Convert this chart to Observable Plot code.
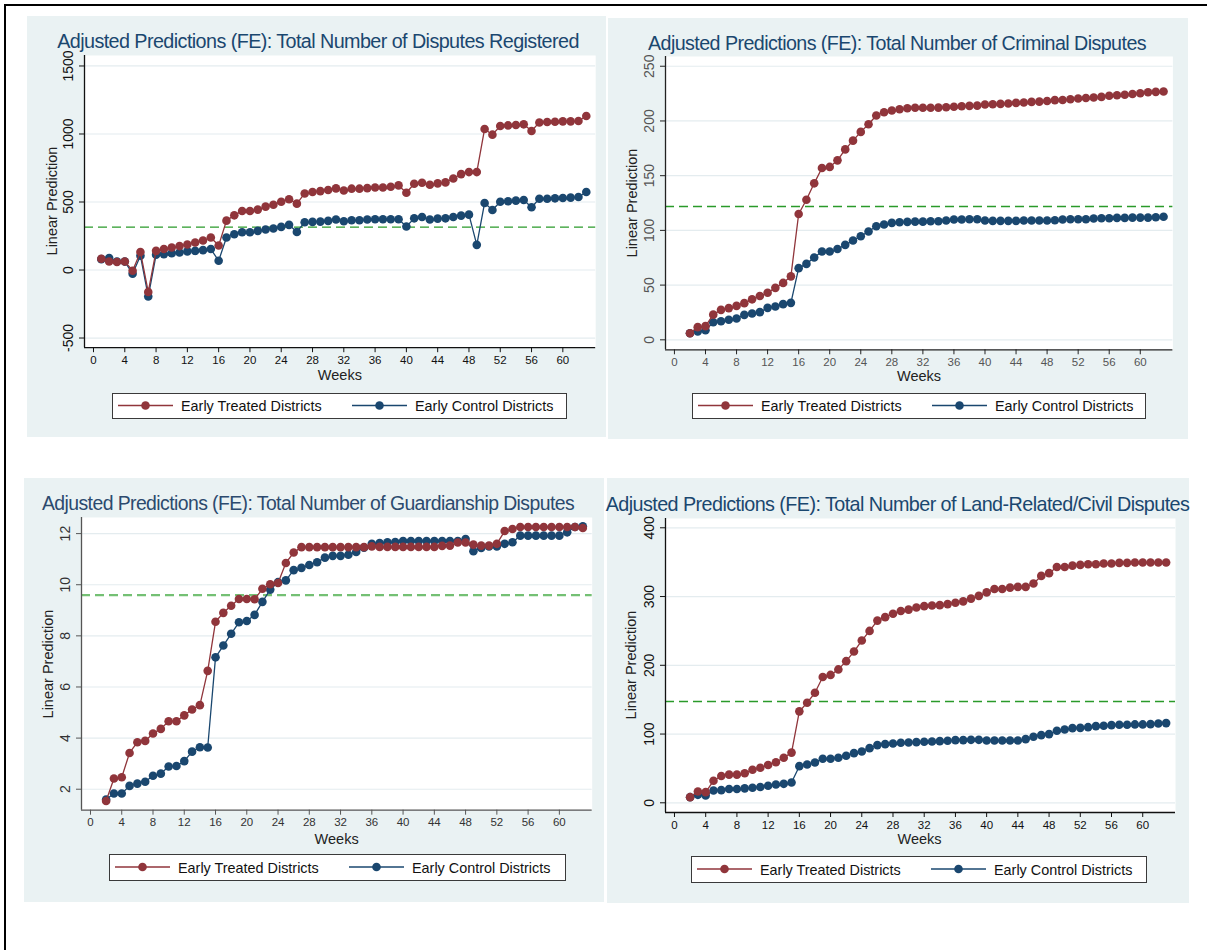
<!DOCTYPE html>
<html>
<head>
<meta charset="utf-8">
<script src="https://cdn.jsdelivr.net/npm/d3@7"></script>
<script src="https://cdn.jsdelivr.net/npm/@observablehq/plot@0.6"></script>
<style>
  html, body { margin: 0; padding: 0; background: #fff; }
  body { font-family: "Liberation Sans", Arial, sans-serif; }
  #page { position: relative; width: 1207px; height: 950px; overflow: hidden; background: #fff; }
  .bline { position: absolute; background: #000; }
  .panel { position: absolute; background: #eaf2f3; }
  .title { position: absolute; white-space: nowrap; transform: translate(-50%, -50%); line-height: 1; }
  .ylab { position: absolute; white-space: nowrap; transform: translate(-50%, -50%) rotate(-90deg); font-size: 14.5px; color: #222; line-height: 1; }
  .xlab { position: absolute; white-space: nowrap; transform: translate(-50%, -50%); font-size: 14.5px; color: #222; line-height: 1; }
  .legend { position: absolute; background: #fff; border: 1.5px solid #3a3a3a; box-sizing: border-box; }
  .legend span { position: absolute; top: 50%; transform: translateY(-50%); white-space: nowrap; font-size: 14.4px; color: #111; line-height: 1; }
  .legend svg { position: absolute; left: 0; top: 0; }
  .plotbox { position: absolute; }
</style>
</head>
<body>
<div id="page"></div>
<script>
// ---------------- DATA ----------------
const weeksAll = [1,2,3,4,5,6,7,8,9,10,11,12,13,14,15,16,17,18,19,20,21,22,23,24,25,26,27,28,29,30,31,32,33,34,35,36,37,38,39,40,41,42,43,44,45,46,47,48,49,50,51,52,53,54,55,56,57,58,59,60,61,62,63];
const weeksFrom2 = weeksAll.slice(1);

const seriesNames = ["Early Treated Districts", "Early Control Districts"];
const xTicks = [0,4,8,12,16,20,24,28,32,36,40,44,48,52,56,60];

// Panel 1: Total Number of Disputes Registered (weeks 1-63)
const disputesTreated = [83,63,59,63,-5,132,-161,141,154,166,176,188,202,217,239,180,363,402,434,434,444,466,480,502,520,488,563,573,580,588,600,585,598,598,602,607,607,612,622,568,634,641,627,637,644,673,705,720,720,1037,995,1059,1063,1066,1071,1022,1085,1088,1090,1093,1093,1095,1132];
const disputesControl = [80,88,62,62,-27,105,-195,112,117,124,129,137,141,146,154,68,239,263,278,278,288,298,305,317,332,280,351,354,356,361,371,359,366,366,371,373,373,373,373,320,380,390,371,378,380,390,400,407,185,493,441,502,505,510,515,461,524,524,527,529,532,537,573];
const disputesYTicks = [-500,0,500,1000,1500];

// Panel 2: Criminal Disputes (weeks 2-63)
const criminalTreated = [6,11.6,12.5,23,27.4,29,31,33.5,37,40,43,47.5,52,58,115,128,143,157,158,164,174,182,190,197,205,208,209.5,210.7,211.6,212,212,212,212.2,212.5,213,213.5,213.8,214,215,215.3,215.6,216,216.5,216.8,217.4,217.7,218.3,219,219.2,219.8,220.5,221,221.4,222,223,223.5,224,224.7,225.3,226.2,226.6,226.9];
const criminalControl = [6,7.6,8.8,16,17,18.3,19.5,22.8,24,25.3,29.2,30.5,32.6,33.8,65.5,69.4,75.2,80.7,80.7,83,86.8,90.7,94.7,99,103.8,105.4,106.9,107.5,107.8,108,108,108.4,108.4,109,110,110,110.2,110.2,109,108.7,108.7,108.7,108.7,109,109,109,109,109.3,110,110.2,110.2,110.2,110.8,111.1,111.1,111.4,111.4,111.7,111.7,111.7,112,112.4];
const criminalYTicks = [0,50,100,150,200,250];

// Panel 3: Guardianship Disputes (weeks 2-63)
const guardianTreated = [1.54,2.42,2.47,3.42,3.84,3.89,4.18,4.36,4.66,4.66,4.89,5.12,5.29,6.63,8.55,8.9,9.18,9.44,9.44,9.43,9.84,10.02,10.07,10.85,11.26,
  11.47,11.47,11.47,11.47,11.47,11.47,11.47,11.47,11.47,
  11.5,
  11.48,11.48,11.48,11.48,11.48,11.48,11.48,11.48,
  11.52,11.53,11.65,11.65,11.57,11.53,11.53,11.6,
  12.1,12.18,
  12.26,12.26,12.26,12.26,12.26,12.26,12.26,12.26,
  12.22];
const guardianControl = [1.6,1.83,1.83,2.13,2.22,2.29,2.53,2.61,2.89,2.91,3.1,3.47,3.64,3.63,7.16,7.62,8.08,8.53,8.58,8.82,9.33,9.81,10.1,10.17,10.57,10.66,10.77,10.88,11.06,11.13,11.13,11.17,11.28,11.45,11.6,11.63,11.66,11.67,11.71,
  11.71,11.71,11.71,11.71,11.71,11.71,11.71,
  11.79,
  11.31,11.44,11.5,11.5,11.6,11.66,
  11.92,11.92,11.92,11.92,11.92,11.92,
  12.05,12.26,12.29];
const guardianYTicks = [2,4,6,8,10,12];

// Panel 4: Land-Related/Civil Disputes (weeks 2-63)
const landTreated = [8.2,16.5,15.5,32,39,41,41,43,48,51,55,59,65.5,73,133,145.5,160,183,186,194,206,220,236,250,265,270,275,279,281,284,286,287,287.5,289,291,293,297,301,306,311,311,313,314,314,319,330,334,343,343,345,346,347,347,348,348,349,349,349.5,349.5,349.5,349.5,349.5];
const landControl = [8.2,11.6,10.7,18,18.4,20,20,21,22,23,24.7,26.7,27.6,29.6,53.3,55.8,58.7,64,64,65.5,68.4,72.2,74.7,79.5,83.9,85.3,86.3,87.3,87.8,88.2,88.7,89.2,89.7,90.2,91.2,91.2,91.6,91.6,90.7,90.7,90.7,90.7,90.7,92.6,96,98.4,99.9,104.7,106.7,108.6,109,110,111.5,112,113,113.5,113.5,114,114,114.4,115.4,115.9];
const landYTicks = [0,100,200,300,400];

// Horizontal reference (dashed) levels
const refLevels = [315, 121.8, 9.59, 147.4];

const titles = [
  "Adjusted Predictions (FE): Total Number of Disputes Registered",
  "Adjusted Predictions (FE): Total Number of Criminal Disputes",
  "Adjusted Predictions (FE): Total Number of Guardianship Disputes",
  "Adjusted Predictions (FE): Total Number of Land-Related/Civil Disputes"
];

// ---------------- LAYOUT / STYLE ----------------
const RED = "#90353b", BLUE = "#1a476f";
const X_DOMAIN = [-1.15, 64.2];

const panels = [
  { title: titles[0], weeks: weeksAll, treated: disputesTreated, control: disputesControl, ref: refLevels[0], yTicks: disputesYTicks, yDomain: [-571, 1577],
    bg: {l: 27, t: 16, r: 606, b: 437}, frame: {l: 84.3, t: 54.5, r: 595.5, b: 346.7},
    titleC: [318, 41.8], titleW: 522, titleColor: "#1a476f", ylabX: 51.6, weeksY: 375,
    legend: {l: 112, t: 393, w: 455, h: 26}, refColor: "#2a9a2a", refWidth: 1.4, tickColor: "#111", axisColor: "#111" },
  { title: titles[1], weeks: weeksFrom2, treated: criminalTreated, control: criminalControl, ref: refLevels[1], yTicks: criminalYTicks, yDomain: [-9.1, 258.9],
    bg: {l: 608, t: 18, r: 1188, b: 439}, frame: {l: 665.3, t: 56, r: 1172.7, b: 349.3},
    titleC: [897, 44], titleW: 498, titleColor: "#1a476f", ylabX: 632, weeksY: 376,
    legend: {l: 692, t: 393, w: 454, h: 26}, refColor: "#2a9a2a", refWidth: 1.4, tickColor: "#555", axisColor: "#222" },
  { title: titles[2], weeks: weeksFrom2, treated: guardianTreated, control: guardianControl, ref: refLevels[2], yTicks: guardianYTicks, yDomain: [1.18, 12.63],
    bg: {l: 24, t: 478, r: 604, b: 902}, frame: {l: 81.3, t: 517.3, r: 592, b: 810},
    titleC: [308, 504], titleW: 532, titleColor: "#2c4a6e", ylabX: 47.9, weeksY: 838.7,
    legend: {l: 109, t: 854.3, w: 457, h: 27}, refColor: "#74c074", refWidth: 2.2, tickColor: "#333", axisColor: "#555" },
  { title: titles[3], weeks: weeksFrom2, treated: landTreated, control: landControl, ref: refLevels[3], yTicks: landYTicks, yDomain: [-14.1, 413.5],
    bg: {l: 607, t: 478, r: 1189, b: 903}, frame: {l: 664.5, t: 517.7, r: 1174.5, b: 811.7},
    titleC: [897.5, 505], titleW: 584, titleColor: "#1a476f", ylabX: 630.6, weeksY: 839,
    legend: {l: 691, t: 856, w: 456, h: 27}, refColor: "#2a9a2a", refWidth: 1.4, tickColor: "#111", axisColor: "#111" }
];

const page = document.getElementById("page");

function addDiv(cls, css) { const d = document.createElement("div"); d.className = cls; Object.assign(d.style, css); page.appendChild(d); return d; }
// outer border (top and left)
addDiv("bline", {left: "4px", top: "4px", width: "1203px", height: "2px"});
addDiv("bline", {left: "4px", top: "4px", width: "2px", height: "946px"});

const ctx = document.createElement("canvas").getContext("2d");
function measure(text, size, family) {
  ctx.font = `${size}px ${family}`;
  return ctx.measureText(text).width;
}

const ML = 50, MR = 4, MT = 4, MB = 30;

for (const p of panels) {
  addDiv("panel", {left: p.bg.l + "px", top: p.bg.t + "px", width: (p.bg.r - p.bg.l) + "px", height: (p.bg.b - p.bg.t) + "px"});

  // title: slightly taller glyphs, tightened spacing to match the measured width
  const t = addDiv("title", {left: p.titleC[0] + "px", top: p.titleC[1] + "px", color: p.titleColor});
  t.textContent = p.title;
  const fam = '"Liberation Sans"';
  const fitted = 100 * p.titleW / measure(p.title, 100, fam);
  const size = fitted * 1.07;
  const w = measure(p.title, size, fam);
  t.style.fontSize = size.toFixed(2) + "px";
  t.style.letterSpacing = ((p.titleW - w) / p.title.length).toFixed(3) + "px";

  const fw = p.frame.r - p.frame.l, fh = p.frame.b - p.frame.t;
  const rows = p.weeks.map((wk, i) => ({week: wk, treated: p.treated[i], control: p.control[i]}));

  const chart = Plot.plot({
    width: fw + ML + MR,
    height: fh + MT + MB,
    marginLeft: ML, marginRight: MR, marginTop: MT, marginBottom: MB,
    style: {background: "transparent", fontFamily: '"Liberation Sans", Arial, sans-serif', overflow: "visible", color: p.tickColor},
    x: {domain: X_DOMAIN},
    y: {domain: p.yDomain},
    marks: [
      Plot.frame({fill: "#fff", stroke: "none"}),
      Plot.gridY(p.yTicks, {stroke: "#e4ecef", strokeOpacity: 1, strokeWidth: 1.2}),
      Plot.ruleY([p.ref], {stroke: p.refColor, strokeWidth: p.refWidth, strokeDasharray: "9,5"}),
      Plot.line(rows, {x: "week", y: "control", stroke: BLUE, strokeWidth: 1.3}),
      Plot.dot(rows, {x: "week", y: "control", fill: BLUE, r: 4.3, stroke: "none"}),
      Plot.line(rows, {x: "week", y: "treated", stroke: RED, strokeWidth: 1.3}),
      Plot.dot(rows, {x: "week", y: "treated", fill: RED, r: 4.3, stroke: "none"}),
      Plot.ruleX([X_DOMAIN[0]], {stroke: p.axisColor, strokeWidth: 1.3}),
      Plot.ruleY([p.yDomain[0]], {stroke: p.axisColor, strokeWidth: 1.3}),
      Plot.axisX(xTicks, {tickSize: 5, tickPadding: 3, fontSize: 11.5, stroke: p.axisColor, fill: p.tickColor, label: null, tickFormat: d => String(d)}),
      Plot.axisY(p.yTicks, {tickSize: 5, tickPadding: 7, tickRotate: -90, fontSize: 14, stroke: p.axisColor, fill: p.tickColor, label: null, tickFormat: d => String(d)})
    ]
  });
  const box = document.createElement("div");
  box.className = "plotbox";
  box.style.left = (p.frame.l - ML) + "px";
  box.style.top = (p.frame.t - MT) + "px";
  box.appendChild(chart);
  page.appendChild(box);

  // axis titles
  const yl = addDiv("ylab", {left: p.ylabX + "px", top: ((p.frame.t + p.frame.b) / 2) + "px"});
  yl.textContent = "Linear Prediction";
  const xl = addDiv("xlab", {left: ((p.frame.l + p.frame.r) / 2) + "px", top: p.weeksY + "px"});
  xl.textContent = "Weeks";

  // legend
  const lg = addDiv("legend", {left: p.legend.l + "px", top: p.legend.t + "px", width: p.legend.w + "px", height: p.legend.h + "px"});
  const cy = p.legend.h / 2 - 1.5;
  const svgNS = "http://www.w3.org/2000/svg";
  const sv = document.createElementNS(svgNS, "svg");
  sv.setAttribute("width", p.legend.w); sv.setAttribute("height", p.legend.h);
  const keys = [{x0: 5, x1: 60, cx: 32.5, color: RED, tx: 68, name: seriesNames[0]}, {x0: 239, x1: 294, cx: 266.5, color: BLUE, tx: 302, name: seriesNames[1]}];
  for (const k of keys) {
    const ln = document.createElementNS(svgNS, "line");
    ln.setAttribute("x1", k.x0); ln.setAttribute("x2", k.x1); ln.setAttribute("y1", cy); ln.setAttribute("y2", cy);
    ln.setAttribute("stroke", k.color); ln.setAttribute("stroke-width", 1.3);
    sv.appendChild(ln);
    const c = document.createElementNS(svgNS, "circle");
    c.setAttribute("cx", k.cx); c.setAttribute("cy", cy); c.setAttribute("r", 4.3); c.setAttribute("fill", k.color);
    sv.appendChild(c);
  }
  lg.appendChild(sv);
  for (const k of keys) {
    const s = document.createElement("span");
    s.style.left = k.tx + "px";
    s.textContent = k.name;
    lg.appendChild(s);
  }
}
</script>
</body>
</html>
